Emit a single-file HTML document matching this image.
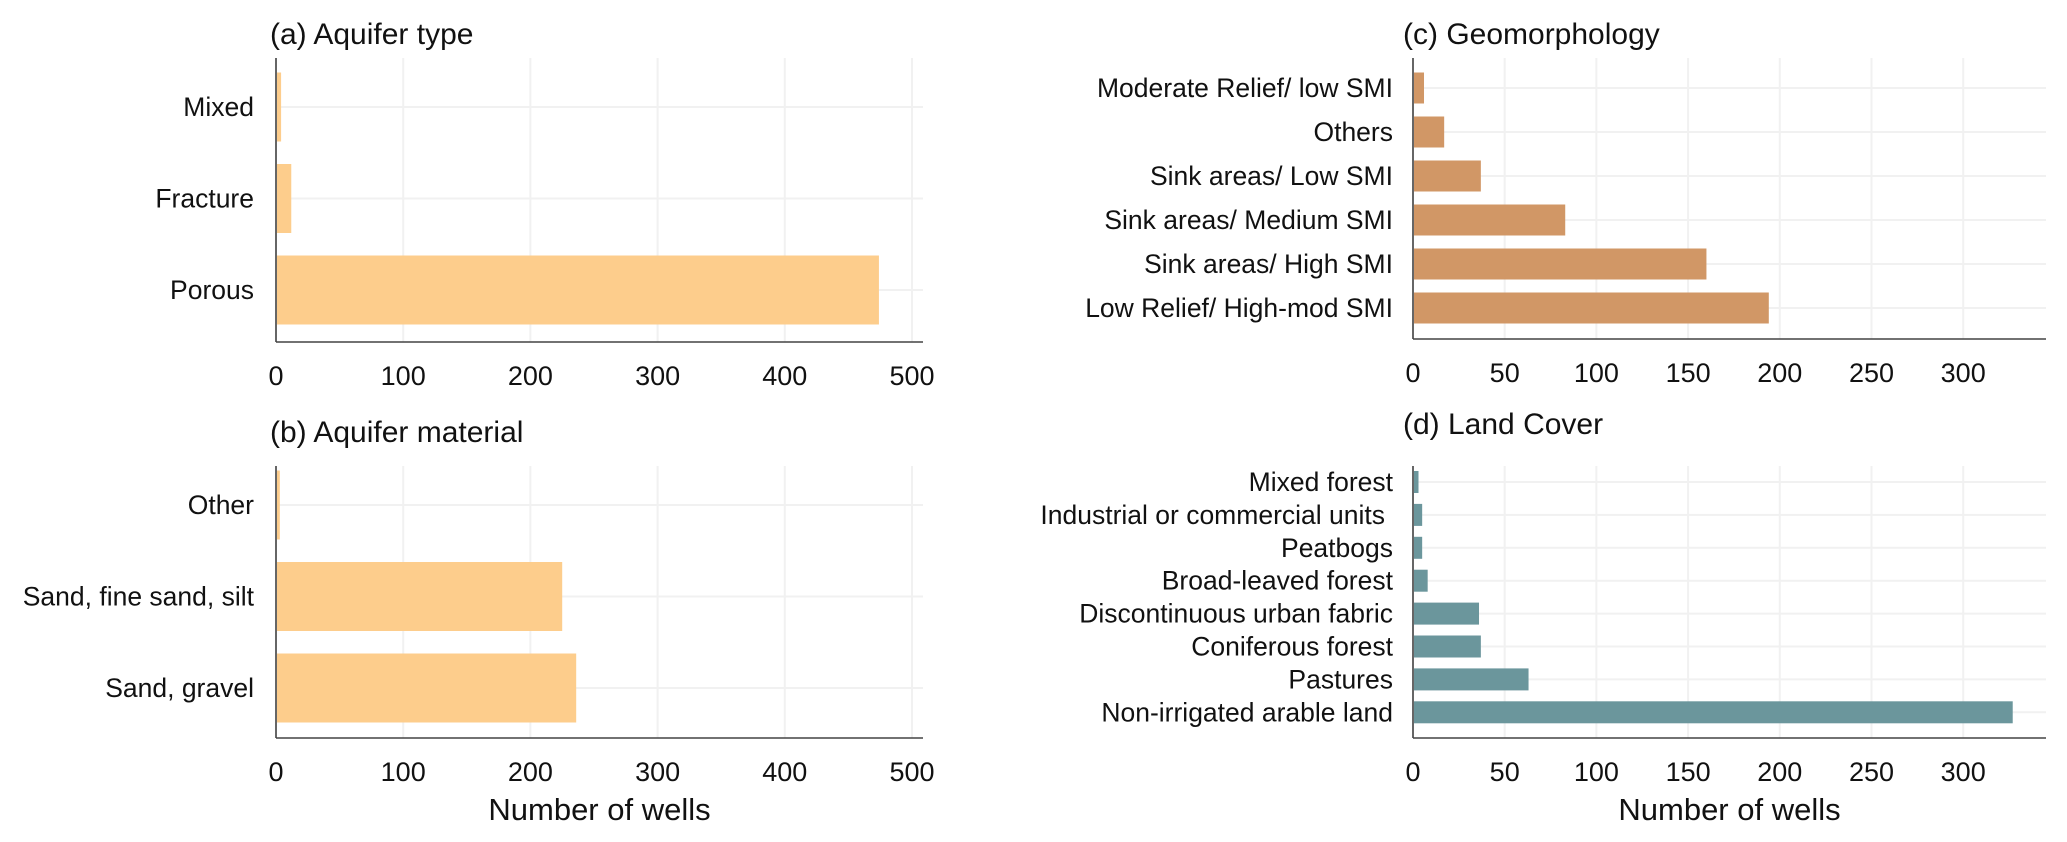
<!DOCTYPE html>
<html><head><meta charset="utf-8"><style>
html,body{margin:0;padding:0;background:#fff;}
svg{display:block;font-family:"Liberation Sans",Arial,sans-serif;}
</style></head><body>
<svg id="chart" width="2067" height="842" viewBox="0 0 2067 842" xmlns="http://www.w3.org/2000/svg"></svg>
<script>
const aCats = ["Mixed","Fracture","Porous"];
const aVals = [4,12,474];
const bCats = ["Other","Sand, fine sand, silt","Sand, gravel"];
const bVals = [3,225,236];
const cCats = ["Moderate Relief/ low SMI","Others","Sink areas/ Low SMI","Sink areas/ Medium SMI","Sink areas/ High SMI","Low Relief/ High-mod SMI"];
const cVals = [6,17,37,83,160,194];
const dCats = ["Mixed forest","Industrial or commercial units","Peatbogs","Broad-leaved forest","Discontinuous urban fabric","Coniferous forest","Pastures","Non-irrigated arable land"];
const dVals = [3,5,5,8,36,37,63,327];
const leftTicks = [0,100,200,300,400,500];
const rightTicks = [0,50,100,150,200,250,300];

const NS="http://www.w3.org/2000/svg";
const svg=document.getElementById('chart');
function el(tag,attrs,parent){const e=document.createElementNS(NS,tag);for(const k in attrs)e.setAttribute(k,attrs[k]);(parent||svg).appendChild(e);return e;}

function panel(cfg){
  const g=el('g',{});
  
  
  const sx=v=>cfg.x0+v*cfg.k;
  const sy=i=>cfg.c0+i*cfg.step;
  cfg.ticks.forEach(t=>{
    const l=el('line',{x1:sx(t),x2:sx(t),y1:cfg.top,y2:cfg.bottom,stroke:'#f1f1f1','stroke-width':2},g);
    
    
  });
  cfg.cats.forEach((c,i)=>{
    const l=el('line',{x1:cfg.x0,x2:cfg.x1,y1:sy(i),y2:sy(i),stroke:'#f1f1f1','stroke-width':2},g);
    
    
  });
  cfg.vals.forEach((v,i)=>{
    const r=el('rect',{x:cfg.x0+1,y:sy(i)-cfg.bh/2,width:Math.max(0,sx(v)-cfg.x0-1),height:cfg.bh,fill:cfg.color},g);
    
    
  });
  cfg.cats.forEach((c,i)=>{
    const t=el('text',{x:cfg.x0-cfg.lpad-(c.startsWith('Industrial')?8:0),y:sy(i)+9,'text-anchor':'end','font-size':cfg.fs,fill:'#111'},g);
    t.textContent=c;
    
    
  });
  const s1=el('line',{x1:cfg.x0,x2:cfg.x0,y1:cfg.top,y2:cfg.bottom,stroke:'#444','stroke-width':1.6},g);
  
  
  const s2=el('line',{x1:cfg.x0,x2:cfg.x1,y1:cfg.bottom,y2:cfg.bottom,stroke:'#444','stroke-width':1.6},g);
  
  
  cfg.ticks.forEach(t=>{
    const tx=el('text',{x:sx(t),y:cfg.bottom+43,'text-anchor':'middle','font-size':27,fill:'#111'},g);
    tx.textContent=t;
    
    
  });
  const ti=el('text',{x:cfg.tx,y:cfg.ty,'font-size':30,fill:'#111'},g);
  ti.textContent=cfg.title;
  
  
  if(cfg.xlabel){
    const xl=el('text',{x:(cfg.x0+cfg.x1)/2,y:cfg.bottom+82,'text-anchor':'middle','font-size':31,fill:'#111'},g);
    xl.textContent=cfg.xlabel;
    
    
  }
}

panel({name:'panel-a-aquifer-type',cats:aCats,vals:aVals,ticks:leftTicks,x0:276,x1:923,k:1.272,top:58,bottom:342,c0:107,step:91.5,bh:69,color:'#fdcd8c',fs:26.5,lpad:22,title:'(a) Aquifer type',tx:270,ty:44});
panel({name:'panel-b-aquifer-material',cats:bCats,vals:bVals,ticks:leftTicks,x0:276,x1:923,k:1.272,top:466,bottom:738,c0:505,step:91.5,bh:69,color:'#fdcd8c',fs:26.5,lpad:22,title:'(b) Aquifer material',tx:270,ty:442,xlabel:'Number of wells'});
panel({name:'panel-c-geomorphology',cats:cCats,vals:cVals,ticks:rightTicks,x0:1413,x1:2046,k:1.834,top:58,bottom:339,c0:88,step:44,bh:31,color:'#d19766',fs:26.5,lpad:20,title:'(c) Geomorphology',tx:1403,ty:44});
panel({name:'panel-d-land-cover',cats:dCats,vals:dVals,ticks:rightTicks,x0:1413,x1:2046,k:1.834,top:466,bottom:738,c0:482,step:32.9,bh:22,color:'#6b969c',fs:26.5,lpad:20,title:'(d) Land Cover',tx:1403,ty:434,xlabel:'Number of wells'});
</script>
</body></html>
